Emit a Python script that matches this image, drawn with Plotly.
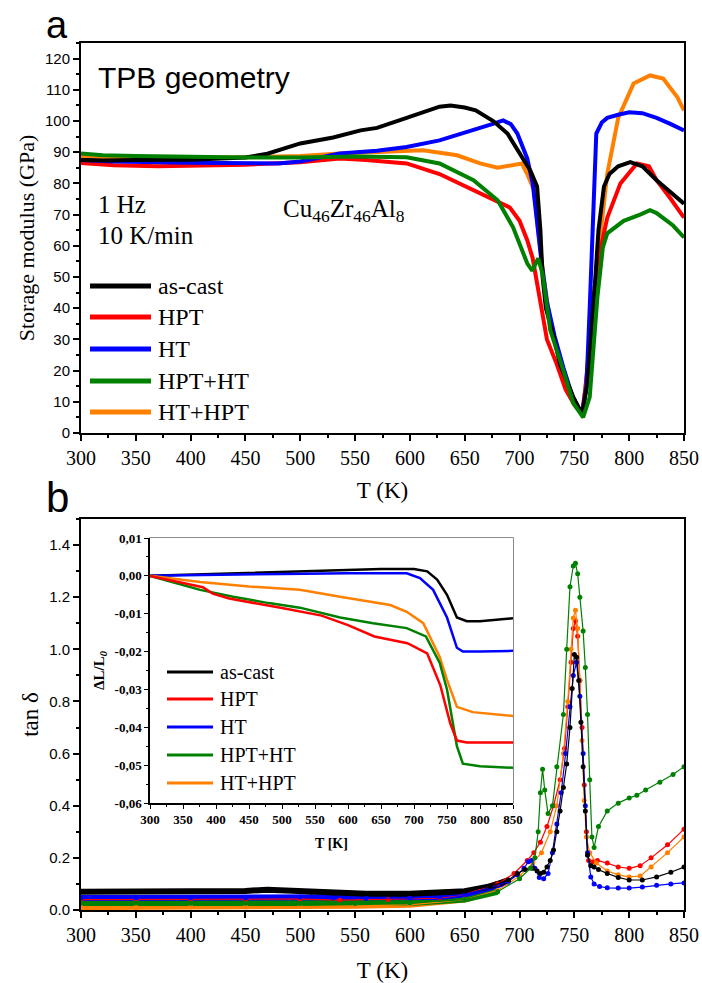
import plotly.graph_objects as go

W, H = 702, 983

series_names = ["as-cast", "HPT", "HT", "HPT+HT", "HT+HPT"]
series_colors = ["#000000", "#ff0000", "#0000ff", "#008000", "#ff8000"]

# ---------------- (a) storage modulus, GPa ----------------
E_T_ascast = [300, 320, 350, 400, 450, 470, 500, 530, 555, 570, 597, 615, 627, 637, 650, 660, 676, 689,
              700, 710, 716, 719, 721, 724, 731, 737, 749, 757, 762, 766, 769, 772, 777, 782, 790, 801,
              812, 825, 838, 850]
E_ascast = [87.5, 87.3, 87.5, 87.6, 88.3, 89.5, 92.8, 94.7, 97.0, 97.8, 101.0, 103.3, 104.6, 105.0, 104.3,
            103.4, 100.0, 96.0, 89.6, 84.0, 79.0, 65.0, 50.0, 40.0, 31.0, 22.0, 11.5, 6.0, 16.0, 33.0,
            49.0, 65.0, 79.0, 83.0, 85.5, 86.8, 85.5, 81.0, 77.0, 73.5]

E_T_hpt = [300, 330, 370, 400, 450, 500, 536, 560, 597, 627, 658, 676, 691, 700, 707, 712, 718, 725, 734,
           742, 750, 757, 760, 764, 768, 772, 780, 792, 807, 818, 825, 838, 850]
E_hpt = [86.5, 85.8, 85.5, 85.6, 86.0, 86.8, 88.0, 87.5, 86.4, 83.0, 77.8, 74.6, 72.3, 68.0, 61.8, 56.0,
         43.5, 30.0, 22.0, 14.0, 9.0, 6.0, 14.0, 30.0, 45.0, 56.0, 69.0, 80.0, 86.4, 85.5, 81.0, 75.0, 69.0]

E_T_ht = [300, 330, 400, 450, 480, 500, 536, 570, 597, 627, 658, 675, 685, 692, 698, 703, 707, 712, 716,
          720, 725, 732, 740, 748, 757, 761, 764, 767, 770, 775, 780, 790, 800, 812, 825, 838, 850]
E_ht = [87.5, 87.0, 86.6, 86.4, 86.4, 87.0, 89.6, 90.5, 91.7, 93.8, 97.0, 99.0, 100.2, 99.0, 96.0, 92.0,
        88.0, 80.0, 66.0, 55.0, 42.0, 31.0, 21.0, 12.0, 6.0, 15.0, 40.0, 72.0, 96.0, 99.5, 101.0, 102.0,
        102.8, 102.5, 101.0, 99.0, 97.0]

E_T_hptht = [300, 320, 350, 400, 450, 500, 550, 597, 627, 658, 680, 694, 702, 707, 711.5, 717, 721, 728,
             740, 749, 758, 764, 771, 776, 780, 795, 810, 819, 825, 831, 840, 850]
E_hptht = [89.6, 89.0, 88.8, 88.5, 88.3, 88.3, 88.6, 88.4, 86.4, 81.0, 74.6, 66.0, 58.6, 54.4, 52.0, 56.0,
           51.0, 33.0, 20.0, 9.6, 5.0, 11.5, 43.5, 59.5, 64.0, 68.0, 70.0, 71.4, 70.5, 69.0, 66.5, 62.7]

E_T_hthpt = [300, 350, 400, 450, 500, 536, 570, 612, 643, 664, 680, 694, 702, 707, 713, 718, 722, 728,
             737, 746, 757, 762, 767, 772, 780, 790, 804, 819, 831, 844, 850]
E_hthpt = [88.5, 88.3, 88.2, 88.4, 88.8, 89.6, 90.0, 90.6, 89.0, 86.4, 85.0, 85.8, 86.4, 83.0, 78.0, 62.0,
           50.0, 35.0, 23.0, 13.0, 6.0, 20.0, 40.0, 58.0, 83.0, 101.0, 112.0, 114.6, 113.6, 107.6, 103.4]

# ---------------- (b) loss factor tan(delta) ----------------
D_T_ascast = [300, 350, 400, 450, 470, 490, 510, 530, 560, 600, 627, 650, 673, 690, 698, 705, 712, 716,
              719, 722, 725, 728, 731, 734, 737, 740, 743, 746, 748, 750, 752, 754, 756, 758, 760, 762,
              765, 768, 772, 780, 790, 800, 812, 825, 838, 850]
D_ascast = [0.070, 0.070, 0.071, 0.073, 0.078, 0.075, 0.068, 0.064, 0.062, 0.062, 0.065, 0.072, 0.090,
            0.115, 0.140, 0.155, 0.160, 0.150, 0.140, 0.145, 0.165, 0.190, 0.230, 0.300, 0.380, 0.470,
            0.560, 0.700, 0.850, 0.980, 0.970, 0.880, 0.720, 0.550, 0.380, 0.210, 0.170, 0.165, 0.155,
            0.140, 0.125, 0.115, 0.115, 0.127, 0.145, 0.165]

D_T_hpt = [300, 350, 400, 450, 500, 536, 580, 627, 650, 680, 695, 707, 713, 719, 725, 731, 737, 741, 744,
           747, 749, 751, 753, 755, 757, 759, 761, 763, 767, 771, 780, 790, 800, 810, 820, 835, 850]
D_hpt = [0.040, 0.040, 0.040, 0.040, 0.042, 0.038, 0.040, 0.045, 0.060, 0.100, 0.140, 0.190, 0.220,
         0.260, 0.320, 0.400, 0.500, 0.620, 0.780, 0.950, 1.080, 1.110, 1.050, 0.880, 0.700, 0.480,
         0.300, 0.190, 0.185, 0.190, 0.180, 0.165, 0.160, 0.170, 0.200, 0.250, 0.310]

D_T_ht = [300, 350, 400, 450, 500, 530, 560, 600, 627, 650, 673, 690, 698, 704, 708, 711, 714, 718, 722,
          726, 730, 734, 738, 742, 746, 749, 752, 755, 758, 760, 762, 765, 768, 773, 780, 790, 800, 812,
          825, 838, 850]
D_ht = [0.046, 0.046, 0.047, 0.047, 0.050, 0.047, 0.045, 0.046, 0.050, 0.060, 0.085, 0.110, 0.135, 0.160,
        0.185, 0.190, 0.160, 0.125, 0.120, 0.140, 0.220, 0.330, 0.450, 0.600, 0.780, 0.900, 0.950, 0.820,
        0.600, 0.400, 0.220, 0.127, 0.100, 0.090, 0.085, 0.084, 0.084, 0.088, 0.095, 0.100, 0.104]

D_T_hptht = [300, 350, 400, 450, 500, 550, 600, 650, 680, 700, 710, 714, 717, 719, 721, 723, 726, 730, 734,
             740, 743, 746, 749, 751, 753, 755, 758, 760, 762, 764, 766, 768, 772, 780, 790, 800, 807, 815,
             828, 840, 850]
D_hptht = [0.027, 0.027, 0.026, 0.026, 0.025, 0.025, 0.027, 0.040, 0.070, 0.120, 0.160, 0.200, 0.300,
           0.450, 0.540, 0.460, 0.370, 0.400, 0.550, 0.750, 1.000, 1.240, 1.320, 1.330, 1.290, 1.200,
           1.070, 0.930, 0.750, 0.500, 0.280, 0.240, 0.320, 0.380, 0.410, 0.430, 0.440, 0.460, 0.490,
           0.520, 0.550]

D_T_hthpt = [300, 350, 400, 450, 500, 550, 600, 650, 680, 700, 712, 720, 728, 734, 740, 744, 747, 749, 751,
             753, 755, 757, 759, 761, 764, 770, 780, 790, 800, 810, 820, 835, 850]
D_hthpt = [0.011, 0.011, 0.012, 0.012, 0.013, 0.016, 0.020, 0.040, 0.075, 0.130, 0.180, 0.220, 0.300,
           0.400, 0.600, 0.800, 1.000, 1.120, 1.150, 1.080, 0.880, 0.650, 0.420, 0.280, 0.220, 0.180,
           0.150, 0.135, 0.127, 0.130, 0.165, 0.220, 0.280]

# ---------------- inset: relative length change dL/L0 ----------------
L_T_ascast = [300, 400, 500, 600, 650, 700, 720, 735, 750, 765, 780, 800, 850]
L_ascast = [0.0, 0.0005, 0.0012, 0.0017, 0.0018, 0.0018, 0.0012, -0.001, -0.005, -0.011, -0.012, -0.012,
            -0.0112]

L_T_hpt = [300, 350, 380, 395, 420, 500, 560, 600, 640, 690, 720, 740, 755, 765, 780, 800, 850]
L_hpt = [0.0, -0.002, -0.003, -0.0047, -0.006, -0.0085, -0.0105, -0.013, -0.016, -0.0178, -0.0205,
         -0.029, -0.039, -0.0435, -0.044, -0.044, -0.044]

L_T_ht = [300, 400, 500, 600, 689, 709, 729, 750, 765, 774, 800, 850]
L_ht = [0.0, 0.0003, 0.0005, 0.0007, 0.0007, -0.0006, -0.0037, -0.011, -0.019, -0.020, -0.020, -0.0198]

L_T_hptht = [300, 340, 376, 426, 480, 527, 588, 638, 689, 718, 739, 750, 765, 774, 800, 850]
L_hptht = [0.0, -0.002, -0.0037, -0.0055, -0.0072, -0.0084, -0.011, -0.0125, -0.0138, -0.016, -0.023,
           -0.030, -0.045, -0.0496, -0.0503, -0.0507]

L_T_hthpt = [300, 376, 450, 527, 588, 618, 664, 689, 714, 739, 750, 765, 789, 850]
L_hthpt = [0.0, -0.0016, -0.0028, -0.0037, -0.0055, -0.0063, -0.0077, -0.0095, -0.0125, -0.0214,
           -0.0275, -0.0346, -0.036, -0.037]

# inset y tick labels use a decimal comma
inset_ytick_vals = [0.01, 0.0, -0.01, -0.02, -0.03, -0.04, -0.05, -0.06]
inset_ytick_text = ["0,01", "0,00", "-0,01", "-0,02", "-0,03", "-0,04", "-0,05", "-0,06"]

E_data = {"as-cast": (E_T_ascast, E_ascast), "HPT": (E_T_hpt, E_hpt), "HT": (E_T_ht, E_ht),
          "HPT+HT": (E_T_hptht, E_hptht), "HT+HPT": (E_T_hthpt, E_hthpt)}
D_data = {"as-cast": (D_T_ascast, D_ascast), "HPT": (D_T_hpt, D_hpt), "HT": (D_T_ht, D_ht),
          "HPT+HT": (D_T_hptht, D_hptht), "HT+HPT": (D_T_hthpt, D_hthpt)}
L_data = {"as-cast": (L_T_ascast, L_ascast), "HPT": (L_T_hpt, L_hpt), "HT": (L_T_ht, L_ht),
          "HPT+HT": (L_T_hptht, L_hptht), "HT+HPT": (L_T_hthpt, L_hthpt)}
color_of = dict(zip(series_names, series_colors))

SERIF = "Liberation Serif"
SANS = "Liberation Sans"


def px(x):
    return x / W


def py(y):
    return 1 - y / H


fig = go.Figure()

# panel (a)
for name in ["HT+HPT", "HPT", "HT", "as-cast", "HPT+HT"]:
    t, v = E_data[name]
    fig.add_trace(go.Scatter(x=t, y=v, mode="lines", line=dict(color=color_of[name], width=4),
                             xaxis="x", yaxis="y", showlegend=False, name=name))

# panel (b): noisy low-temperature band drawn as a thick stroke, then the measured points
for name in ["HPT", "HT+HPT", "HPT+HT", "HT", "as-cast"]:
    t, v = D_data[name]
    lo_t = [a for a in t if a <= 690]
    lo_v = [b for a, b in zip(t, v) if a <= 690]
    fig.add_trace(go.Scatter(x=lo_t, y=lo_v, mode="lines", line=dict(color=color_of[name], width=6),
                             xaxis="x2", yaxis="y2", showlegend=False, hoverinfo="skip"))
for name in ["HPT", "HT+HPT", "HT", "as-cast", "HPT+HT"]:
    t, v = D_data[name]
    fig.add_trace(go.Scatter(x=t, y=v, mode="lines+markers", line=dict(color=color_of[name], width=1.2),
                             marker=dict(color=color_of[name], size=5), xaxis="x2", yaxis="y2",
                             showlegend=False, name=name))

# inset
for name in ["as-cast", "HT", "HT+HPT", "HPT+HT", "HPT"]:
    t, v = L_data[name]
    fig.add_trace(go.Scatter(x=t, y=v, mode="lines", line=dict(color=color_of[name], width=2.5),
                             xaxis="x3", yaxis="y3", showlegend=False, name=name))

axis_common = dict(showline=True, linecolor="black", linewidth=2, mirror=True, ticks="outside",
                   ticklen=6, tickwidth=1.5, tickcolor="black", showgrid=False, zeroline=False,
                   automargin=False)

xdom = [px(81), px(684)]
fig.update_layout(
    width=W, height=H, autosize=False,
    margin=dict(l=0, r=0, t=0, b=0),
    paper_bgcolor="white", plot_bgcolor="white",
    xaxis=dict(domain=xdom, range=[300, 850], anchor="y", dtick=50, tick0=300,
               minor=dict(dtick=25, tick0=300, ticks="outside", ticklen=3, tickwidth=1.5, tickcolor="black"),
               tickfont=dict(family=SERIF, size=20, color="black"),
               title=dict(text="T (K)", font=dict(family=SERIF, size=23, color="black"), standoff=14),
               **axis_common),
    yaxis=dict(domain=[py(433), py(43)], range=[0, 125], anchor="x", dtick=10, tick0=0,
               minor=dict(dtick=5, tick0=0, ticks="outside", ticklen=3, tickwidth=1.5, tickcolor="black"),
               tickfont=dict(family=SANS, size=15, color="black"),
               title=dict(text="Storage modulus (GPa)", font=dict(family=SERIF, size=22, color="black"),
                          standoff=4),
               **axis_common),
    xaxis2=dict(domain=xdom, range=[300, 850], anchor="y2", dtick=50, tick0=300,
                minor=dict(dtick=25, tick0=300, ticks="outside", ticklen=3, tickwidth=1.5, tickcolor="black"),
                tickfont=dict(family=SERIF, size=20, color="black"),
                title=dict(text="T (K)", font=dict(family=SERIF, size=23, color="black"), standoff=18),
                **axis_common),
    yaxis2=dict(domain=[py(910), py(519)], range=[0, 1.5], anchor="x2", dtick=0.2, tick0=0,
                tickformat=".1f",
                minor=dict(dtick=0.1, tick0=0, ticks="outside", ticklen=3, tickwidth=1.5, tickcolor="black"),
                tickfont=dict(family=SANS, size=15, color="black"),
                title=dict(text="tan δ", font=dict(family=SERIF, size=23, color="black"), standoff=4),
                **axis_common),
    xaxis3=dict(domain=[px(150), px(513)], range=[300, 850], anchor="y3", dtick=50, tick0=300,
                showline=True, linecolor="black", linewidth=1.5, mirror=False, ticks="outside",
                ticklen=4, tickwidth=1, tickcolor="black", showgrid=False, zeroline=False, automargin=False,
                minor=dict(dtick=25, tick0=300, ticks="outside", ticklen=2, tickwidth=1, tickcolor="black"),
                tickfont=dict(family=SERIF, size=13, color="black", weight="bold"),
                title=dict(text="<b>T [K]</b>", font=dict(family=SERIF, size=14, color="black"), standoff=12)),
    yaxis3=dict(domain=[py(803), py(538)], range=[-0.06, 0.01], anchor="x3",
                tickmode="array", tickvals=inset_ytick_vals, ticktext=inset_ytick_text,
                showline=True, linecolor="black", linewidth=1.5, mirror=False, ticks="outside",
                ticklen=4, tickwidth=1, tickcolor="black", showgrid=False, zeroline=False, automargin=False,
                minor=dict(dtick=0.005, tick0=0, ticks="outside", ticklen=2, tickwidth=1, tickcolor="black"),
                tickfont=dict(family=SERIF, size=13, color="black", weight="bold"),
                title=dict(text="<b>ΔL/L<sub><i>0</i></sub></b>", font=dict(family=SERIF, size=15, color="black"),
                           standoff=6)),
)

shapes = [
    # inset frame: grey box under the black left/bottom axis lines
    dict(type="rect", xref="x3 domain", yref="y3 domain", x0=0, x1=1, y0=0, y1=1,
         line=dict(color="#666666", width=1.5), fillcolor="rgba(0,0,0,0)", layer="below"),
]
annotations = [
    dict(text="a", x=px(44), y=py(25), xanchor="left", yanchor="middle",
         font=dict(family=SANS, size=38, color="black")),
    dict(text="b", x=px(44), y=py(497), xanchor="left", yanchor="middle",
         font=dict(family=SANS, size=42, color="black")),
    dict(text="TPB geometry", x=px(96), y=py(78), xanchor="left", yanchor="middle",
         font=dict(family=SANS, size=30, color="black")),
    dict(text="1 Hz", x=px(96), y=py(205), xanchor="left", yanchor="middle",
         font=dict(family=SERIF, size=25, color="black")),
    dict(text="10 K/min", x=px(96), y=py(236), xanchor="left", yanchor="middle",
         font=dict(family=SERIF, size=25, color="black")),
    dict(text="Cu<sub>46</sub>Zr<sub>46</sub>Al<sub>8</sub>", x=px(281), y=py(210), xanchor="left",
         yanchor="middle", font=dict(family=SERIF, size=25, color="black")),
]

# legend of panel (a)
top_rows = [286, 317, 349, 381, 412]
for name, row in zip(series_names, top_rows):
    shapes.append(dict(type="line", xref="paper", yref="paper", x0=px(90), x1=px(151), y0=py(row), y1=py(row),
                       line=dict(color=color_of[name], width=5)))
    annotations.append(dict(text=name, x=px(156), y=py(row), xanchor="left", yanchor="middle",
                            font=dict(family=SERIF, size=24, color="black")))

# legend of the inset
inset_rows = [672, 699, 727, 755, 783]
for name, row in zip(series_names, inset_rows):
    shapes.append(dict(type="line", xref="paper", yref="paper", x0=px(167), x1=px(213), y0=py(row), y1=py(row),
                       line=dict(color=color_of[name], width=3)))
    annotations.append(dict(text=name, x=px(218), y=py(row), xanchor="left", yanchor="middle",
                            font=dict(family=SERIF, size=20, color="black")))

for a in annotations:
    a.update(xref="paper", yref="paper", showarrow=False)
fig.update_layout(shapes=shapes, annotations=annotations)

fig.write_html("out.html")
